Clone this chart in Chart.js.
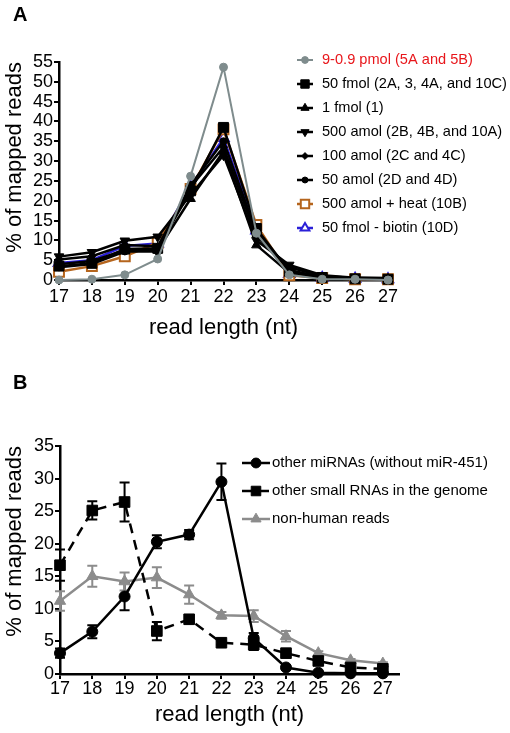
<!DOCTYPE html>
<html>
<head>
<meta charset="utf-8">
<script src="https://cdn.jsdelivr.net/npm/chart.js@4.4.1/dist/chart.umd.min.js"></script>
<style>
  html, body { margin: 0; padding: 0; background: #fff; }
  #page { position: relative; width: 510px; height: 733px; overflow: hidden; font-family: "Liberation Sans", Arial, sans-serif; }
  .wrap { position: absolute; left: 0; width: 510px; }
  .panel-label { position: absolute; left: 13px; font-weight: bold; font-size: 20px; line-height: 20px; z-index: 2; }
</style>
</head>
<body>
<div id="page">
  <div class="wrap" style="top:0;height:370px"><canvas id="chartA" width="510" height="370"></canvas></div>
  <div class="wrap" style="top:370px;height:363px"><canvas id="chartB" width="510" height="363"></canvas></div>
  <div class="panel-label" style="top:4px">A</div>
  <div class="panel-label" style="top:372px">B</div>
</div>
<script>
const readLengths = [17, 18, 19, 20, 21, 22, 23, 24, 25, 26, 27];

// panel A - % of mapped reads for each input amount
const pmol9 = [0, 0.2, 1.3, 5.3, 26.2, 53.7, 11.8, 1.3, 0.2, 0.2, 0];
const fmol50 = [3.5, 4.2, 7.8, 8.0, 22.5, 38.5, 13.0, 2.2, 0.6, 0.3, 0.2];
const fmol1 = [4.0, 4.8, 7.5, 7.5, 20.5, 32.5, 8.8, 1.8, 0.6, 0.3, 0.3];
const amol500 = [5.9, 7.0, 9.9, 10.9, 21.5, 31.5, 10.0, 3.8, 1.2, 0.6, 0.5];
const amol100 = [5.2, 6.0, 8.8, 8.5, 23.5, 33.5, 11.0, 3.2, 1.0, 0.5, 0.4];
const amol50 = [3.2, 4.0, 7.2, 7.2, 24.0, 35.0, 12.0, 2.5, 0.7, 0.4, 0.3];
const amol500Heat = [2.1, 3.5, 6.0, 9.4, 23.0, 38.0, 13.9, 1.2, 0.5, 0.2, 0.2];
const fmol50Biotin = [4.3, 5.0, 8.6, 9.2, 23.5, 35.8, 12.5, 1.5, 0.5, 0.3, 0.2];
const yTicksA = [0, 5, 10, 15, 20, 25, 30, 35, 40, 45, 50, 55];

// panel B - mean and error
const otherMirna = [3.2, 6.5, 11.9, 20.3, 21.4, 29.5, 5.5, 1.0, 0.2, 0.1, 0.1];
const otherMirnaErr = [0.7, 1.0, 2.1, 1.0, 0.7, 2.8, 0.8, 0.2, 0, 0, 0];
const smallRnas = [16.7, 25.1, 26.4, 6.6, 8.4, 4.8, 4.5, 3.2, 2.0, 1.0, 0.8];
const smallRnasErr = [2.4, 1.4, 3.0, 1.4, 0.6, 0.3, 0.8, 0.3, 0.2, 0.2, 0.1];
const nonHuman = [11.2, 15.0, 14.2, 14.8, 12.2, 9.0, 8.9, 5.8, 3.2, 2.1, 1.6];
const nonHumanErr = [1.5, 1.6, 1.4, 1.6, 1.4, 0.5, 0.9, 0.8, 0.3, 0.2, 0.2];
const yTicksB = [0, 5, 10, 15, 20, 25, 30, 35];

const FONT = '"Liberation Sans", Arial, Helvetica, sans-serif';
Chart.defaults.font.family = FONT;
Chart.defaults.color = '#000';

const pts = vals => readLengths.map((x, i) => ({ x, y: vals[i] }));

function series(label, vals, o) {
    return Object.assign({
        label,
        data: pts(vals),
        borderColor: '#000',
        backgroundColor: '#000',
        borderWidth: 2.5,
        pointBackgroundColor: '#000',
        pointBorderColor: '#000',
        pointBorderWidth: 1,
        pointRadius: 4,
        pointRotation: 0,
        clip: false
    }, o);
}

// legend drawn inside the plot, like the original figure
const insideLegend = {
    id: 'insideLegend',
    afterDraw(chart, args, opts) {
        const ctx = chart.ctx;
        ctx.save();
        chart.data.datasets.forEach((ds, i) => {
            const y = opts.top + i * opts.step;
            ctx.strokeStyle = ds.borderColor;
            ctx.lineWidth = ds.borderWidth;
            ctx.setLineDash(ds.borderDash || []);
            ctx.beginPath();
            ctx.moveTo(opts.x0, y);
            ctx.lineTo(opts.x1, y);
            ctx.stroke();
            ctx.setLineDash([]);
            ctx.fillStyle = ds.pointBackgroundColor;
            ctx.strokeStyle = ds.pointBorderColor;
            ctx.lineWidth = ds.pointBorderWidth;
            Chart.helpers.drawPoint(ctx, {
                pointStyle: ds.pointStyle || 'circle',
                radius: ds.pointRadius * opts.pointScale,
                rotation: ds.pointRotation || 0,
                borderWidth: ds.pointBorderWidth
            }, (opts.x0 + opts.x1) / 2, y);
            ctx.fillStyle = ds.legendColor || '#000';
            ctx.font = opts.fontSize + 'px ' + FONT;
            ctx.textBaseline = 'middle';
            ctx.textAlign = 'left';
            ctx.fillText(ds.label, opts.textX, y);
        });
        ctx.restore();
    }
};

// vertical error bars with caps
const errorBars = {
    id: 'errorBars',
    beforeDatasetsDraw(chart) {
        const { ctx, scales: { x, y } } = chart;
        ctx.save();
        chart.data.datasets.forEach(ds => {
            if (!ds.errors) return;
            ctx.strokeStyle = ds.borderColor;
            ctx.lineWidth = 2;
            ctx.setLineDash([]);
            ds.data.forEach((p, i) => {
                const e = ds.errors[i];
                if (!e) return;
                const px = x.getPixelForValue(p.x);
                const top = y.getPixelForValue(p.y + e);
                const bot = y.getPixelForValue(Math.max(0, p.y - e));
                ctx.beginPath();
                ctx.moveTo(px, top); ctx.lineTo(px, bot);
                ctx.moveTo(px - 5, top); ctx.lineTo(px + 5, top);
                ctx.moveTo(px - 5, bot); ctx.lineTo(px + 5, bot);
                ctx.stroke();
            });
        });
        ctx.restore();
    }
};

function axes(xMax, yTicks, yWidth, xHeight, xTitlePad, xTickPad) {
    const grid = { drawOnChartArea: false, tickLength: 5, color: '#000', lineWidth: 2 };
    const border = { color: '#000', width: 2.5 };
    return {
        x: {
            type: 'linear', min: 17, max: xMax,
            ticks: { autoSkip: false, maxRotation: 0, font: { size: 18 }, padding: xTickPad, color: '#000' },
            afterBuildTicks: s => { s.ticks = readLengths.map(v => ({ value: v })); },
            grid, border,
            title: { display: true, text: 'read length (nt)', color: '#000', font: { size: 22 }, padding: { top: 0, bottom: xTitlePad } },
            afterFit: s => { s.height = xHeight; }
        },
        y: {
            min: yTicks[0], max: yTicks[yTicks.length - 1],
            ticks: { autoSkip: false, font: { size: 18 }, padding: 1, color: '#000' },
            afterBuildTicks: s => { s.ticks = yTicks.map(v => ({ value: v })); },
            grid, border,
            title: { display: true, text: '% of mapped reads', align: 'end', color: '#000', font: { size: 22 }, padding: { top: 2, bottom: 0 } },
            afterFit: s => { s.width = yWidth; }
        }
    };
}

new Chart(document.getElementById('chartA'), {
    type: 'line',
    data: {
        datasets: [
            series('9-0.9 pmol (5A and 5B)', pmol9, { borderColor: '#7f8c8d', borderWidth: 2, pointBackgroundColor: '#7f8c8d', pointBorderColor: '#7f8c8d', pointRadius: 4, legendColor: '#e8161b' }),
            series('50 fmol (2A, 3, 4A, and 10C)', fmol50, { pointStyle: 'rect', pointRadius: 7 }),
            series('1 fmol (1)', fmol1, { pointStyle: 'triangle', pointRadius: 5.5 }),
            series('500 amol (2B, 4B, and 10A)', amol500, { pointStyle: 'triangle', pointRotation: 180, pointRadius: 5.5 }),
            series('100 amol (2C and 4C)', amol100, { pointStyle: 'rectRot', pointRadius: 4 }),
            series('50 amol (2D and 4D)', amol50, { pointRadius: 3.5 }),
            series('500 amol + heat (10B)', amol500Heat, { borderColor: '#b5651d', pointStyle: 'rect', pointRadius: 7, pointBackgroundColor: '#fff', pointBorderColor: '#b5651d', pointBorderWidth: 2 }),
            series('50 fmol - biotin (10D)', fmol50Biotin, { borderColor: '#2b20d8', pointStyle: 'triangle', pointRadius: 6, pointBackgroundColor: '#fff', pointBorderColor: '#2b20d8', pointBorderWidth: 2 })
        ]
    },
    options: {
        responsive: false,
        animation: false,
        layout: { padding: { top: 62, right: 122, bottom: 20, left: 0 } },
        scales: axes(27, yTicksA, 59, 70, 9, 1),
        plugins: {
            legend: { display: false },
            tooltip: { enabled: false },
            insideLegend: { x0: 297, x1: 313, textX: 322, top: 60, step: 24, fontSize: 14.6, pointScale: 0.85 }
        }
    },
    plugins: [insideLegend]
});

new Chart(document.getElementById('chartB'), {
    type: 'line',
    data: {
        datasets: [
            series('other miRNAs (without miR-451)', otherMirna, { pointRadius: 5.5, errors: otherMirnaErr }),
            series('other small RNAs in the genome', smallRnas, { borderDash: [10, 7], pointStyle: 'rect', pointRadius: 7.5, errors: smallRnasErr }),
            series('non-human reads', nonHuman, { borderColor: '#8c8c8c', pointStyle: 'triangle', pointRadius: 6.5, pointBackgroundColor: '#8c8c8c', pointBorderColor: '#8c8c8c', errors: nonHumanErr })
        ]
    },
    options: {
        responsive: false,
        animation: false,
        layout: { padding: { top: 76, right: 111, bottom: 0, left: 0 } },
        scales: axes(27.5, yTicksB, 60, 59, 5, -1),
        plugins: {
            legend: { display: false },
            tooltip: { enabled: false },
            insideLegend: { x0: 242, x1: 270, textX: 272, top: 93, step: 28, fontSize: 15, pointScale: 0.9 }
        }
    },
    plugins: [errorBars, insideLegend]
});
</script>
</body>
</html>
